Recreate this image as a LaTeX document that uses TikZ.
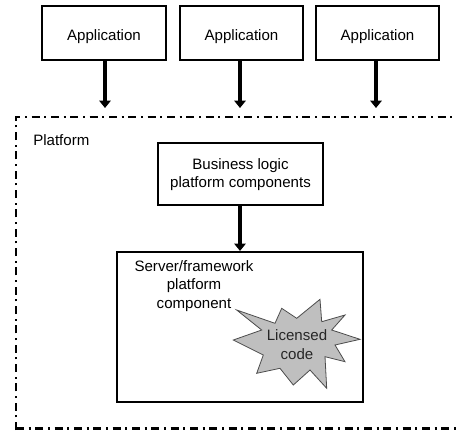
\documentclass[tikz,border=0pt]{standalone}
\usepackage{fontspec}
\setmainfont{Liberation Sans}
\usetikzlibrary{arrows.meta}
\begin{document}
\begin{tikzpicture}[x=0.75pt,y=-0.75pt,
  box/.style={draw,line width=1.6pt,rectangle,inner sep=0pt},
  lbl/.style={font=\fontsize{11.3}{13.8}\selectfont,align=center,inner sep=0pt},
  arr/.style={line width=2.6pt,-{Triangle[width=8.5pt,length=5.5pt]}},
  platformline/.style={line width=1.7pt,dash pattern=on 6pt off 3.5pt on 1.5pt off 3.5pt}]
\useasboundingbox (0,0) rectangle (456,430);
% applications
\node[box,minimum width=124*0.75pt,minimum height=54*0.75pt] (a1) at (104,33) {};
\node[box,minimum width=123*0.75pt,minimum height=54*0.75pt] (a2) at (241.5,33) {};
\node[box,minimum width=123*0.75pt,minimum height=54*0.75pt] (a3) at (377.5,33) {};
\node[lbl] (a1t) at ([yshift=-2.5pt]a1.center) {Application};
\node[lbl] (a2t) at ([yshift=-2.5pt]a2.center) {Application};
\node[lbl] (a3t) at ([yshift=-2.5pt]a3.center) {Application};
% platform
\draw[platformline] (16,430) -- (16,117) -- (470,117);
\draw[platformline] (16,428.5) -- (470,428.5);
\node[lbl,anchor=west] (pl) at (33,140) {Platform};
\coordinate (t1) at (105,108);
\coordinate (t2) at (240,108);
\coordinate (t3) at (376,108);
\draw[arr] (a1.south -| t1) -- (t1);
\draw[arr] (a2.south -| t2) -- (t2);
\draw[arr] (a3.south -| t3) -- (t3);
% business logic
\node[box,minimum width=165*0.75pt,minimum height=62*0.75pt] (b) at (240.5,174) {};
\node[lbl] (bt) at ([yshift=-0.5pt]b.center) {Business logic\\platform components};
% server
\node[box,minimum width=246*0.75pt,minimum height=150*0.75pt] (s) at (240,327) {};
\node[lbl] (st) at (194,286) {Server/framework\\platform\\component};
\draw[arr] (b.south -| s.north) -- (s.north);
% licensed code starburst
\draw[fill=black!25,draw=black!70,line width=0.6pt]
 (236.7,310) -- (275,323.3) -- (281.7,308.3) -- (296.7,318.3) -- (320,299.3)
 -- (321.7,321.7) -- (345,315) -- (331.7,330) -- (360,339.3) -- (335,345)
 -- (345,361.7) -- (325,356.7) -- (326.7,388.3) -- (310,370) -- (293.3,385)
 -- (280,368.3) -- (256.7,373.3) -- (263.3,355) -- (233.3,340) -- (261.7,330) -- cycle;
\node[lbl,text=black!85] (lc) at (297,344.5) {Licensed\\code};
\end{tikzpicture}
\end{document}
